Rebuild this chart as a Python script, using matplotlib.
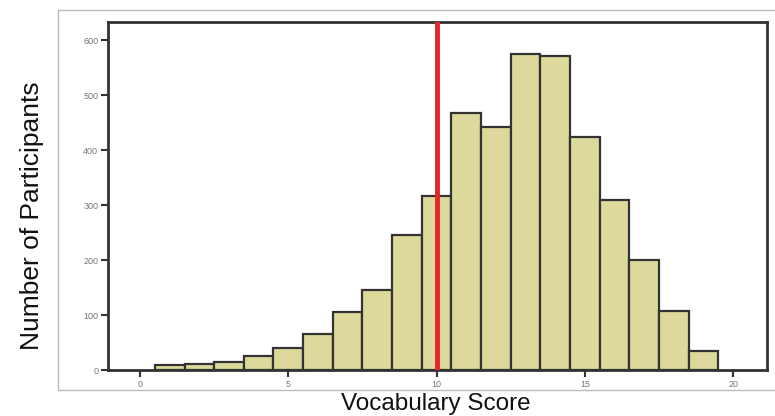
import matplotlib
matplotlib.use("Agg")
import matplotlib.pyplot as plt
from matplotlib.lines import Line2D

scores = list(range(1, 20))
counts = [9, 11, 15, 26, 40, 66, 105, 145, 245, 316, 467, 442, 575, 571, 424, 310, 200, 108, 35]
mean_score = 10
xticks = [0, 5, 10, 15, 20]
yticks = [0, 100, 200, 300, 400, 500, 600]

plt.rcParams['font.family'] = ['Liberation Sans', 'DejaVu Sans']

fig = plt.figure(figsize=(7.75, 4.16), dpi=100)
ax = fig.add_axes([108/775, 46/416, (767-108)/775, (370-22)/416])

ax.bar(scores, counts, width=1.0, color='#dcd99b', edgecolor='#333333', linewidth=1.6, zorder=2)
ax.axvline(mean_score, color='#e8232a', linewidth=3.5, zorder=3)

ax.set_xlim(-1.08, 21.14)
ax.set_ylim(0, 633)
ax.set_xticks(xticks)
ax.set_yticks(yticks)
ax.tick_params(axis='both', direction='out', length=5, width=1.5, color='#333333',
               labelsize=6.5, labelcolor='#777777', pad=2)
for s in ax.spines.values():
    s.set_color('#333333')
    s.set_linewidth(2)

# outer light gray frame lines
fig.add_artist(Line2D([58/775, 1], [1 - 10/416, 1 - 10/416], color='#bbbbbb', lw=1, transform=fig.transFigure))
fig.add_artist(Line2D([58/775, 1], [1 - 390/416, 1 - 390/416], color='#bbbbbb', lw=1, transform=fig.transFigure))
fig.add_artist(Line2D([58/775, 58/775], [1 - 10/416, 1 - 390/416], color='#bbbbbb', lw=1, transform=fig.transFigure))

fig.text(436/775, 1 - 404/416, 'Vocabulary Score', ha='center', va='center', fontsize=17.5, color='#111111')
fig.text(32/775, 1 - 216/416, 'Number of Participants', ha='center', va='center', rotation=90, fontsize=19, color='#111111')

fig.savefig('out.png', dpi=100)
